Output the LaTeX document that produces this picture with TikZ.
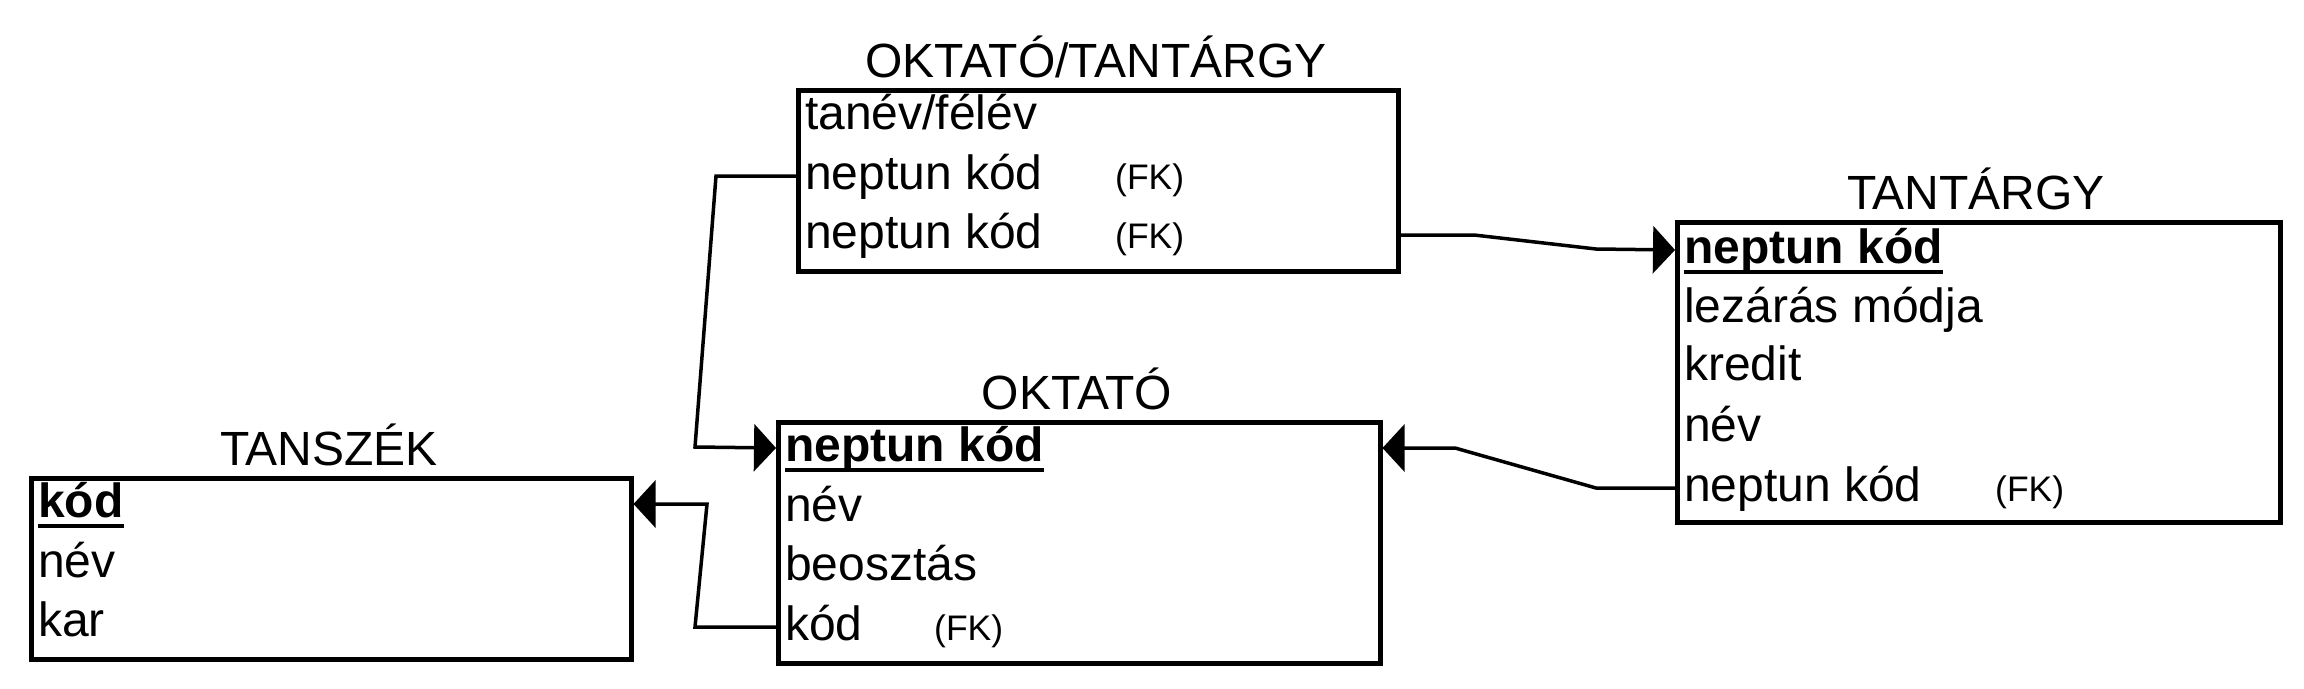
\documentclass[tikz,border=0pt]{standalone}
\usepackage{fontspec}
\setmainfont{Liberation Sans}
\usetikzlibrary{arrows.meta}
\begin{document}
\begin{tikzpicture}[x=1pt,y=-1pt,
  box/.style={draw, line width=4.5pt, anchor=north west, inner sep=0pt},
  row/.style={anchor=west, inner sep=0pt, text height=34pt, text depth=8pt, font=\fontsize{48}{57}\selectfont},
  keyrow/.style={row, font=\fontsize{48}{57}\selectfont\bfseries},
  title/.style={anchor=base, inner sep=0pt, font=\fontsize{48}{57}\selectfont},
  fk/.style={anchor=base west, inner sep=0pt, font=\fontsize{35.5}{42}\selectfont},
  link/.style={line width=3.5pt, line join=miter},
  tip/.style={-{Triangle[length=22pt,width=47pt]}},
  uline/.style={line width=3.5pt}
]
\useasboundingbox (0,0) rectangle (2304,688);

% TANSZÉK
\node[box, minimum width=600pt, minimum height=181pt] (tsz) at (29,476) {};
\node[title] (tszt) at (329,465) {TANSZÉK};
\node[keyrow] (tsz1) at (38,504) {kód};
\node[row] (tsz2) at (38,564) {név};
\node[row] (tsz3) at (38,623) {kar};
\draw[uline] ([yshift=-1pt]tsz1.south west) -- ([yshift=-1pt]tsz1.south east);

% OKTATÓ
\node[box, minimum width=602pt, minimum height=241pt] (okt) at (776,420) {};
\node[title] (oktt) at (1077,409) {OKTATÓ};
\node[keyrow] (okt1) at (785,448) {neptun kód};
\node[row] (okt2) at (785,508) {név};
\node[row] (okt3) at (785,567) {beosztás};
\node[row] (okt4) at (785,627) {kód};
\node[fk] (okt4fk) at (934,0 |- okt4.base) {(FK)};
\draw[uline] ([yshift=-1pt]okt1.south west) -- ([yshift=-1pt]okt1.south east);

% OKTATÓ/TANTÁRGY
\node[box, minimum width=600pt, minimum height=181pt] (ot) at (796,88) {};
\node[title] (ott) at (1096,77) {OKTATÓ/TANTÁRGY};
\node[row] (ot1) at (805,116) {tanév/félév};
\node[row] (ot2) at (805,176) {neptun kód};
\node[row] (ot3) at (805,235) {neptun kód};
\node[fk] (ot2fk) at (1115,0 |- ot2.base) {(FK)};
\node[fk] (ot3fk) at (1115,0 |- ot3.base) {(FK)};

% TANTÁRGY
\node[box, minimum width=603pt, minimum height=300pt] (tt) at (1675,220) {};
\node[title] (ttt) at (1976,209) {TANTÁRGY};
\node[keyrow] (tt1) at (1684,250) {neptun kód};
\node[row] (tt2) at (1684,309) {lezárás módja};
\node[row] (tt3) at (1684,367) {kredit};
\node[row] (tt4) at (1684,428) {név};
\node[row] (tt5) at (1684,488) {neptun kód};
\node[fk] (tt5fk) at (1995,0 |- tt5.base) {(FK)};
\draw[uline] ([yshift=-1pt]tt1.south west) -- ([yshift=-1pt]tt1.south east);

% connectors
\draw[link,tip] (ot.west |- ot2) -- (716,176) -- (695,447) -- (okt.west |- okt1);
\draw[link,tip] (ot.east |- ot3) -- (1474,235) -- (1596,249) -- (tt.west |- tt1);
\draw[link,tip] (tt.west |- tt5) -- (1596,488) -- (1455,448) -- (okt.east |- okt1);
\draw[link,tip] (okt.west |- okt4) -- (695,627) -- (707,504) -- (tsz.east |- tsz1);
\end{tikzpicture}
\end{document}
